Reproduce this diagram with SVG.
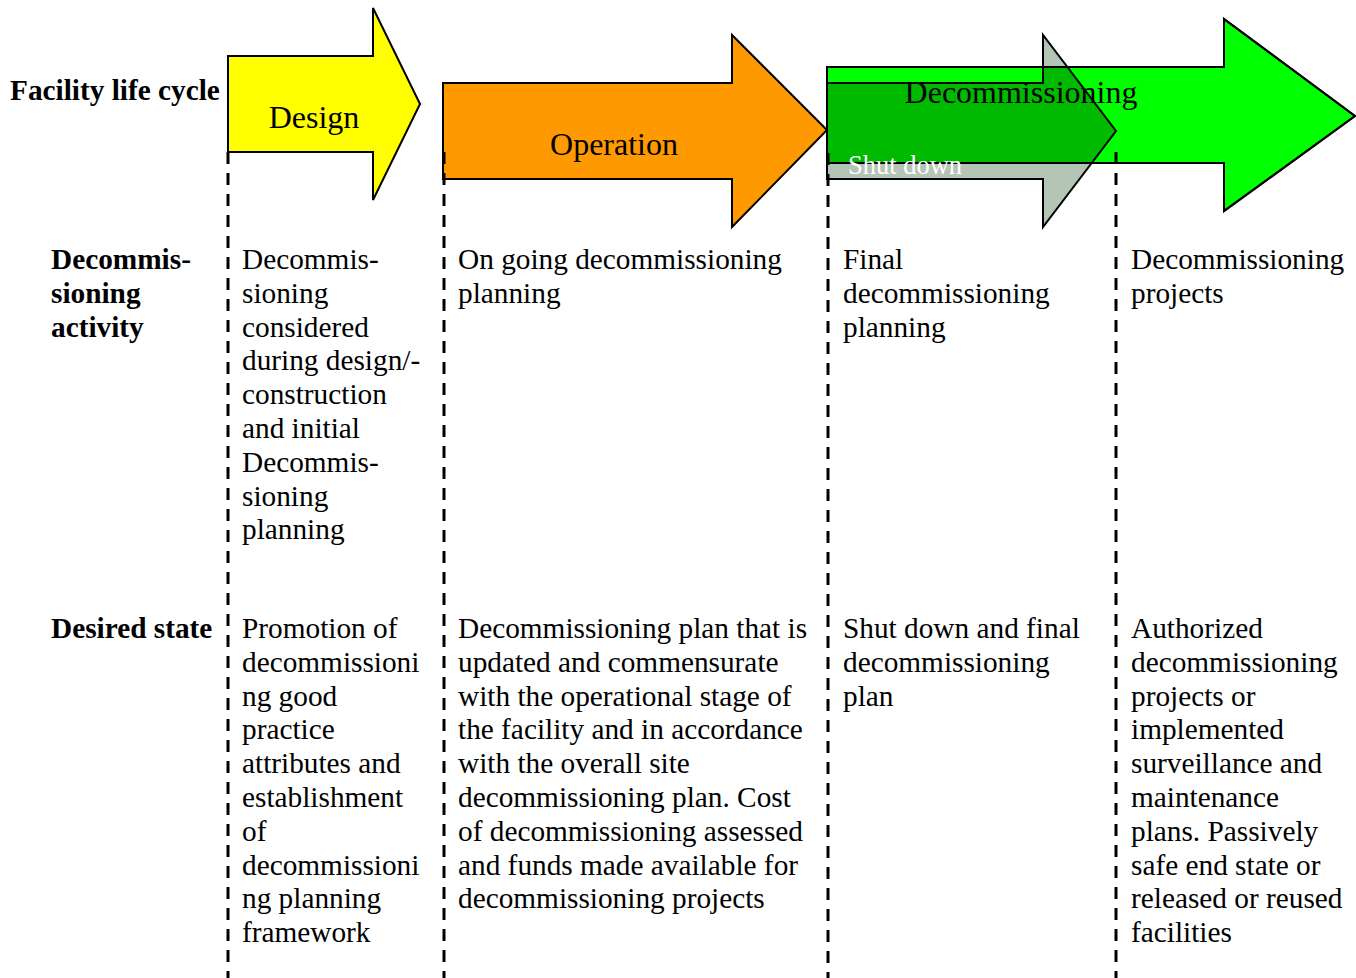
<svg xmlns="http://www.w3.org/2000/svg" width="1356" height="978" viewBox="0 0 1356 978">
<style>
text{font-family:"Liberation Serif","Times New Roman",serif;fill:#000}
.b{font-size:29.3px}
.h{font-size:29.3px;font-weight:bold}
.lbl{font-size:32px;text-anchor:middle}
.arr{stroke:#000;stroke-width:2;stroke-linejoin:miter}
.dash{stroke:#000;stroke-width:3;stroke-dasharray:12 9;fill:none}
</style>
<defs>
<clipPath id="greenBody"><rect x="827" y="67" width="397" height="96"/></clipPath>
</defs>
<rect width="1356" height="978" fill="#fff"/>

<g id="labels">
<text class="h" x="10" y="100">Facility life cycle</text>
<text class="h" x="51" y="269"><tspan x="51">Decommis-</tspan><tspan x="51" dy="33.8">sioning</tspan><tspan x="51" dy="33.8">activity</tspan></text>
<text class="h" x="51" y="638">Desired state</text>
</g>

<g id="design">
<polygon class="arr" fill="#FFFF00" points="228,56 373,56 373,8 420,104 373,200 373,152 228,152"/>
<text class="lbl" x="314" y="128">Design</text>
</g>

<g id="operation">
<polygon class="arr" fill="#FF9900" points="443,83 732,83 732,35 827,130 732,227 732,179 443,179"/>
<text class="lbl" x="614" y="155">Operation</text>
</g>

<g id="decommissioning">
<polygon class="arr" fill="#00FF00" points="827,67 1224,67 1224,19 1355,116 1224,211 1224,163 827,163"/>
</g>

<g id="shutdown">
<polygon fill="#B5C5B5" points="827,83 1043,83 1043,35 1116,131 1043,227 1043,179 827,179"/>
<polygon fill="#00BA00" clip-path="url(#greenBody)" points="827,83 1043,83 1043,35 1116,131 1043,227 1043,179 827,179"/>
<polygon fill="none" stroke="#000" stroke-width="2" points="827,67 1224,67 1224,19 1355,116 1224,211 1224,163 827,163"/>
<polygon fill="none" class="arr" points="827,83 1043,83 1043,35 1116,131 1043,227 1043,179 827,179"/>
<text x="848" y="174" style="font-size:26.5px;fill:#fff">Shut down</text>
</g>
<text class="lbl" x="1021" y="103">Decommissioning</text>

<g id="connectors">
<line class="dash" x1="228" y1="152" x2="228" y2="978"/>
<line class="dash" x1="444" y1="152" x2="444" y2="978"/>
<line class="dash" x1="828" y1="153" x2="828" y2="978"/>
<line class="dash" x1="1116" y1="152" x2="1116" y2="978"/>
</g>

<g id="col1-activity">
<text class="b" x="242" y="269"><tspan x="242">Decommis-</tspan><tspan x="242" dy="33.8">sioning</tspan><tspan x="242" dy="33.8">considered</tspan><tspan x="242" dy="33.8">during design/-</tspan><tspan x="242" dy="33.8">construction</tspan><tspan x="242" dy="33.8">and initial</tspan><tspan x="242" dy="33.8">Decommis-</tspan><tspan x="242" dy="33.8">sioning</tspan><tspan x="242" dy="33.8">planning</tspan></text>
</g>
<g id="col2-activity">
<text class="b" x="458" y="269"><tspan x="458">On going decommissioning</tspan><tspan x="458" dy="33.8">planning</tspan></text>
</g>
<g id="col3-activity">
<text class="b" x="843" y="269"><tspan x="843">Final</tspan><tspan x="843" dy="33.8">decommissioning</tspan><tspan x="843" dy="33.8">planning</tspan></text>
</g>
<g id="col4-activity">
<text class="b" x="1131" y="269"><tspan x="1131">Decommissioning</tspan><tspan x="1131" dy="33.8">projects</tspan></text>
</g>

<g id="col1-state">
<text class="b" x="242" y="638"><tspan x="242">Promotion of</tspan><tspan x="242" dy="33.8">decommissioni</tspan><tspan x="242" dy="33.8">ng good</tspan><tspan x="242" dy="33.8">practice</tspan><tspan x="242" dy="33.8">attributes and</tspan><tspan x="242" dy="33.8">establishment</tspan><tspan x="242" dy="33.8">of</tspan><tspan x="242" dy="33.8">decommissioni</tspan><tspan x="242" dy="33.8">ng planning</tspan><tspan x="242" dy="33.8">framework</tspan></text>
</g>
<g id="col2-state">
<text class="b" x="458" y="638"><tspan x="458">Decommissioning plan that is</tspan><tspan x="458" dy="33.8">updated and commensurate</tspan><tspan x="458" dy="33.8">with the operational stage of</tspan><tspan x="458" dy="33.8">the facility and in accordance</tspan><tspan x="458" dy="33.8">with the overall site</tspan><tspan x="458" dy="33.8">decommissioning plan. Cost</tspan><tspan x="458" dy="33.8">of decommissioning assessed</tspan><tspan x="458" dy="33.8">and funds made available for</tspan><tspan x="458" dy="33.8">decommissioning projects</tspan></text>
</g>
<g id="col3-state">
<text class="b" x="843" y="638"><tspan x="843">Shut down and final</tspan><tspan x="843" dy="33.8">decommissioning</tspan><tspan x="843" dy="33.8">plan</tspan></text>
</g>
<g id="col4-state">
<text class="b" x="1131" y="638"><tspan x="1131">Authorized</tspan><tspan x="1131" dy="33.8">decommissioning</tspan><tspan x="1131" dy="33.8">projects or</tspan><tspan x="1131" dy="33.8">implemented</tspan><tspan x="1131" dy="33.8">surveillance and</tspan><tspan x="1131" dy="33.8">maintenance</tspan><tspan x="1131" dy="33.8">plans. Passively</tspan><tspan x="1131" dy="33.8">safe end state or</tspan><tspan x="1131" dy="33.8">released or reused</tspan><tspan x="1131" dy="33.8">facilities</tspan></text>
</g>
</svg>
